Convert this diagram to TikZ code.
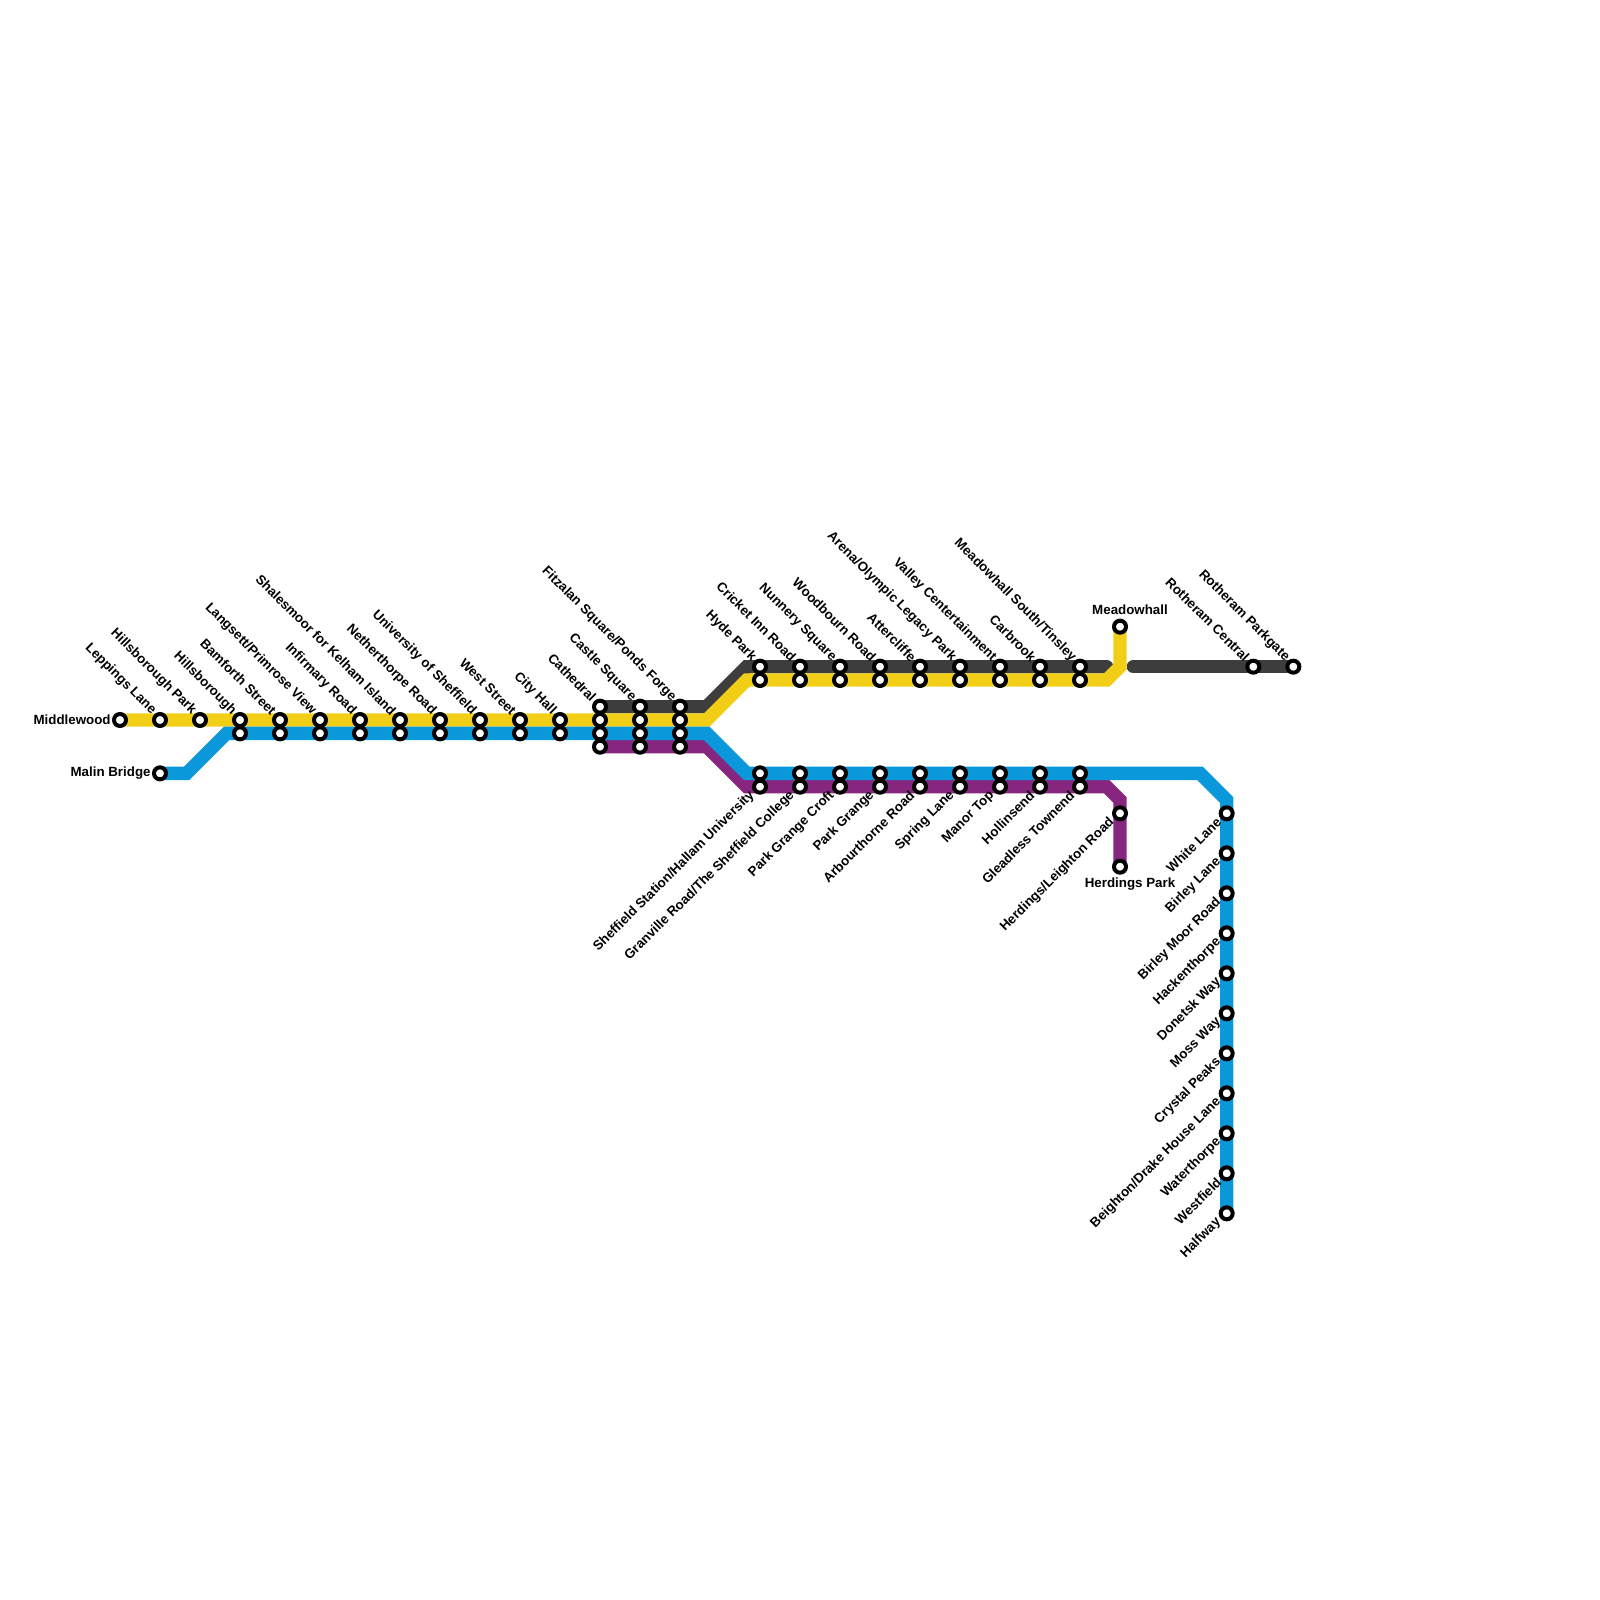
\documentclass[tikz,border=0pt]{standalone}
\usepackage{fontspec}
\usepackage{xcolor}
\usepackage{tikz}
\setmainfont{Liberation Sans}
\usetikzlibrary{backgrounds}
\definecolor{tramyellow}{HTML}{F2CE17}
\definecolor{tramblue}{HTML}{0A98DA}
\definecolor{trampurple}{HTML}{87267F}
\definecolor{tramdark}{HTML}{3D3D3D}
\tikzset{
    stop/.style={circle, draw=black, fill=white, line width=0.04cm, minimum size=0.12cm, inner sep=0pt},
    route/.style={line width=0.1333cm, line cap=round, line join=miter},
    tag/.style={font=\fontsize{3.79}{4.5}\selectfont\bfseries, inner sep=0pt},
    tagup/.style={tag, anchor=east, rotate=-45, xshift=-0.09cm, yshift=0.01cm},
    tagdown/.style={tag, anchor=east, rotate=45, xshift=-0.097cm, yshift=0.008cm},
    tagleft/.style={tag, anchor=east, xshift=-0.087cm},
}

\begin{document}
\begin{tikzpicture}[x=0.01cm, y=-0.01cm]
    \useasboundingbox (0, 0) rectangle (1600, 1600);

    % west end
    \node[stop] (middlewood) at (120, 720) {};
    \node[stop] (leppings) at (160, 720) {};
    \node[stop] (hillsboroughpark) at (200, 720) {};
    \node[stop] (malin) at (160, 773.33) {};

    % shared yellow and blue stops
    \node[stop] (hillsboroughA) at (240, 720) {};
    \node[stop] (hillsboroughB) at (240, 733.33) {};
    \node[stop] (bamforthA) at (280, 720) {};
    \node[stop] (bamforthB) at (280, 733.33) {};
    \node[stop] (langsettA) at (320, 720) {};
    \node[stop] (langsettB) at (320, 733.33) {};
    \node[stop] (infirmaryA) at (360, 720) {};
    \node[stop] (infirmaryB) at (360, 733.33) {};
    \node[stop] (shalesmoorA) at (400, 720) {};
    \node[stop] (shalesmoorB) at (400, 733.33) {};
    \node[stop] (netherthorpeA) at (440, 720) {};
    \node[stop] (netherthorpeB) at (440, 733.33) {};
    \node[stop] (universityA) at (480, 720) {};
    \node[stop] (universityB) at (480, 733.33) {};
    \node[stop] (weststreetA) at (520, 720) {};
    \node[stop] (weststreetB) at (520, 733.33) {};
    \node[stop] (cityhallA) at (560, 720) {};
    \node[stop] (cityhallB) at (560, 733.33) {};

    % city centre
    \node[stop] (cathedralA) at (600, 706.67) {};
    \node[stop] (cathedralB) at (600, 720) {};
    \node[stop] (cathedralC) at (600, 733.33) {};
    \node[stop] (cathedralD) at (600, 746.67) {};
    \node[stop] (castleA) at (640, 706.67) {};
    \node[stop] (castleB) at (640, 720) {};
    \node[stop] (castleC) at (640, 733.33) {};
    \node[stop] (castleD) at (640, 746.67) {};
    \node[stop] (fitzalanA) at (680, 706.67) {};
    \node[stop] (fitzalanB) at (680, 720) {};
    \node[stop] (fitzalanC) at (680, 733.33) {};
    \node[stop] (fitzalanD) at (680, 746.67) {};

    % north branch
    \node[stop] (hydeA) at (760, 666.67) {};
    \node[stop] (hydeB) at (760, 680) {};
    \node[stop] (cricketA) at (800, 666.67) {};
    \node[stop] (cricketB) at (800, 680) {};
    \node[stop] (nunneryA) at (840, 666.67) {};
    \node[stop] (nunneryB) at (840, 680) {};
    \node[stop] (woodbournA) at (880, 666.67) {};
    \node[stop] (woodbournB) at (880, 680) {};
    \node[stop] (attercliffeA) at (920, 666.67) {};
    \node[stop] (attercliffeB) at (920, 680) {};
    \node[stop] (arenaA) at (960, 666.67) {};
    \node[stop] (arenaB) at (960, 680) {};
    \node[stop] (valleyA) at (1000, 666.67) {};
    \node[stop] (valleyB) at (1000, 680) {};
    \node[stop] (carbrookA) at (1040, 666.67) {};
    \node[stop] (carbrookB) at (1040, 680) {};
    \node[stop] (tinsleyA) at (1080, 666.67) {};
    \node[stop] (tinsleyB) at (1080, 680) {};
    \node[stop] (meadowhall) at (1120, 626.67) {};
    \node[stop] (rotherham) at (1253.33, 666.67) {};
    \node[stop] (parkgate) at (1293.33, 666.67) {};

    % south branch
    \node[stop] (stationA) at (760, 773.33) {};
    \node[stop] (stationB) at (760, 786.67) {};
    \node[stop] (granvilleA) at (800, 773.33) {};
    \node[stop] (granvilleB) at (800, 786.67) {};
    \node[stop] (croftA) at (840, 773.33) {};
    \node[stop] (croftB) at (840, 786.67) {};
    \node[stop] (parkgrangeA) at (880, 773.33) {};
    \node[stop] (parkgrangeB) at (880, 786.67) {};
    \node[stop] (arbourthorneA) at (920, 773.33) {};
    \node[stop] (arbourthorneB) at (920, 786.67) {};
    \node[stop] (springA) at (960, 773.33) {};
    \node[stop] (springB) at (960, 786.67) {};
    \node[stop] (manorA) at (1000, 773.33) {};
    \node[stop] (manorB) at (1000, 786.67) {};
    \node[stop] (hollinsendA) at (1040, 773.33) {};
    \node[stop] (hollinsendB) at (1040, 786.67) {};
    \node[stop] (gleadlessA) at (1080, 773.33) {};
    \node[stop] (gleadlessB) at (1080, 786.67) {};
    \node[stop] (leighton) at (1120, 813.33) {};
    \node[stop] (herdings) at (1120, 866.67) {};

    % halfway branch
    \node[stop] (whitelane) at (1226.67, 813.33) {};
    \node[stop] (birleylane) at (1226.67, 853.33) {};
    \node[stop] (birleymoor) at (1226.67, 893.33) {};
    \node[stop] (hackenthorpe) at (1226.67, 933.33) {};
    \node[stop] (donetsk) at (1226.67, 973.33) {};
    \node[stop] (mossway) at (1226.67, 1013.33) {};
    \node[stop] (crystal) at (1226.67, 1053.33) {};
    \node[stop] (beighton) at (1226.67, 1093.33) {};
    \node[stop] (waterthorpe) at (1226.67, 1133.33) {};
    \node[stop] (westfield) at (1226.67, 1173.33) {};
    \node[stop] (halfway) at (1226.67, 1213.33) {};

    % bends
    \coordinate (darkbendA) at (706.67, 706.67);
    \coordinate (darkbendB) at (746.67, 666.67);
    \coordinate (darkend) at (1106.67, 666.67);
    \coordinate (darkstart) at (1133.33, 666.67);
    \coordinate (yellowbendA) at (706.67, 720);
    \coordinate (yellowbendB) at (746.67, 680);
    \coordinate (yellowbendC) at (1106.67, 680);
    \coordinate (yellowbendD) at (1120, 666.67);
    \coordinate (bluebendA) at (186.67, 773.33);
    \coordinate (bluebendB) at (226.67, 733.33);
    \coordinate (bluebendC) at (706.67, 733.33);
    \coordinate (bluebendD) at (746.67, 773.33);
    \coordinate (bluebendE) at (1200, 773.33);
    \coordinate (bluebendF) at (1226.67, 800);
    \coordinate (purplebendA) at (706.67, 746.67);
    \coordinate (purplebendB) at (746.67, 786.67);
    \coordinate (purplebendC) at (1106.67, 786.67);
    \coordinate (purplebendD) at (1120, 800);

    \begin{scope}[on background layer]
        \draw[route, tramdark] (cathedralA.center) -- (darkbendA) -- (darkbendB) -- (darkend);
        \draw[route, tramdark] (darkstart) -- (parkgate.center);
        \draw[route, tramyellow] (middlewood.center) -- (yellowbendA) -- (yellowbendB) -- (yellowbendC) -- (yellowbendD) -- (meadowhall.center);
        \draw[route, trampurple] (cathedralD.center) -- (purplebendA) -- (purplebendB) -- (purplebendC) -- (purplebendD) -- (herdings.center);
        \draw[route, tramblue] (malin.center) -- (bluebendA) -- (bluebendB) -- (bluebendC) -- (bluebendD) -- (bluebendE) -- (bluebendF) -- (halfway.center);
    \end{scope}

    % names above
    \node[tagleft] (tmiddlewood) at (middlewood) {Middlewood};
    \node[tagleft] (tmalin) at (malin) {Malin Bridge};
    \node[tagup] (tleppings) at (leppings) {Leppings Lane};
    \node[tagup] (thillsboroughpark) at (hillsboroughpark) {Hillsborough Park};
    \node[tagup] (thillsborough) at (hillsboroughA) {Hillsborough};
    \node[tagup] (tbamforth) at (bamforthA) {Bamforth Street};
    \node[tagup] (tlangsett) at (langsettA) {Langsett/Primrose View};
    \node[tagup] (tinfirmary) at (infirmaryA) {Infirmary Road};
    \node[tagup] (tshalesmoor) at (shalesmoorA) {Shalesmoor for Kelham Island};
    \node[tagup] (tnetherthorpe) at (netherthorpeA) {Netherthorpe Road};
    \node[tagup] (tuniversity) at (universityA) {University of Sheffield};
    \node[tagup] (tweststreet) at (weststreetA) {West Street};
    \node[tagup] (tcityhall) at (cityhallA) {City Hall};
    \node[tagup] (tcathedral) at (cathedralA) {Cathedral};
    \node[tagup] (tcastle) at (castleA) {Castle Square};
    \node[tagup] (tfitzalan) at (fitzalanA) {Fitzalan Square/Ponds Forge};
    \node[tagup] (thyde) at (hydeA) {Hyde Park};
    \node[tagup] (tcricket) at (cricketA) {Cricket Inn Road};
    \node[tagup] (tnunnery) at (nunneryA) {Nunnery Square};
    \node[tagup] (twoodbourn) at (woodbournA) {Woodbourn Road};
    \node[tagup] (tattercliffe) at (attercliffeA) {Attercliffe};
    \node[tagup] (tarena) at (arenaA) {Arena/Olympic Legacy Park};
    \node[tagup] (tvalley) at (valleyA) {Valley Centertainment};
    \node[tagup] (tcarbrook) at (carbrookA) {Carbrook};
    \node[tagup] (ttinsley) at (tinsleyA) {Meadowhall South/Tinsley};
    \node[tagup] (trotherham) at (rotherham) {Rotheram Central};
    \node[tagup] (tparkgate) at (parkgate) {Rotheram Parkgate};
    \node[tag] (tmeadowhall) at (1130, 610) {Meadowhall};

    % names below
    \node[tagdown] (tstation) at (stationB) {Sheffield Station/Hallam University};
    \node[tagdown] (tgranville) at (granvilleB) {Granville Road/The Sheffield College};
    \node[tagdown] (tcroft) at (croftB) {Park Grange Croft};
    \node[tagdown] (tparkgrange) at (parkgrangeB) {Park Grange};
    \node[tagdown] (tarbourthorne) at (arbourthorneB) {Arbourthorne Road};
    \node[tagdown] (tspring) at (springB) {Spring Lane};
    \node[tagdown] (tmanor) at (manorB) {Manor Top};
    \node[tagdown] (thollinsend) at (hollinsendB) {Hollinsend};
    \node[tagdown] (tgleadless) at (gleadlessB) {Gleadless Townend};
    \node[tagdown] (tleighton) at (leighton) {Herdings/Leighton Road};
    \node[tag] (therdings) at (1130, 884) {Herdings Park};
    \node[tagdown] (twhitelane) at (whitelane) {White Lane};
    \node[tagdown] (tbirleylane) at (birleylane) {Birley Lane};
    \node[tagdown] (tbirleymoor) at (birleymoor) {Birley Moor Road};
    \node[tagdown] (thackenthorpe) at (hackenthorpe) {Hackenthorpe};
    \node[tagdown] (tdonetsk) at (donetsk) {Donetsk Way};
    \node[tagdown] (tmossway) at (mossway) {Moss Way};
    \node[tagdown] (tcrystal) at (crystal) {Crystal Peaks};
    \node[tagdown] (tbeighton) at (beighton) {Beighton/Drake House Lane};
    \node[tagdown] (twaterthorpe) at (waterthorpe) {Waterthorpe};
    \node[tagdown] (twestfield) at (westfield) {Westfield};
    \node[tagdown] (thalfway) at (halfway) {Halfway};

\end{tikzpicture}
\end{document}
